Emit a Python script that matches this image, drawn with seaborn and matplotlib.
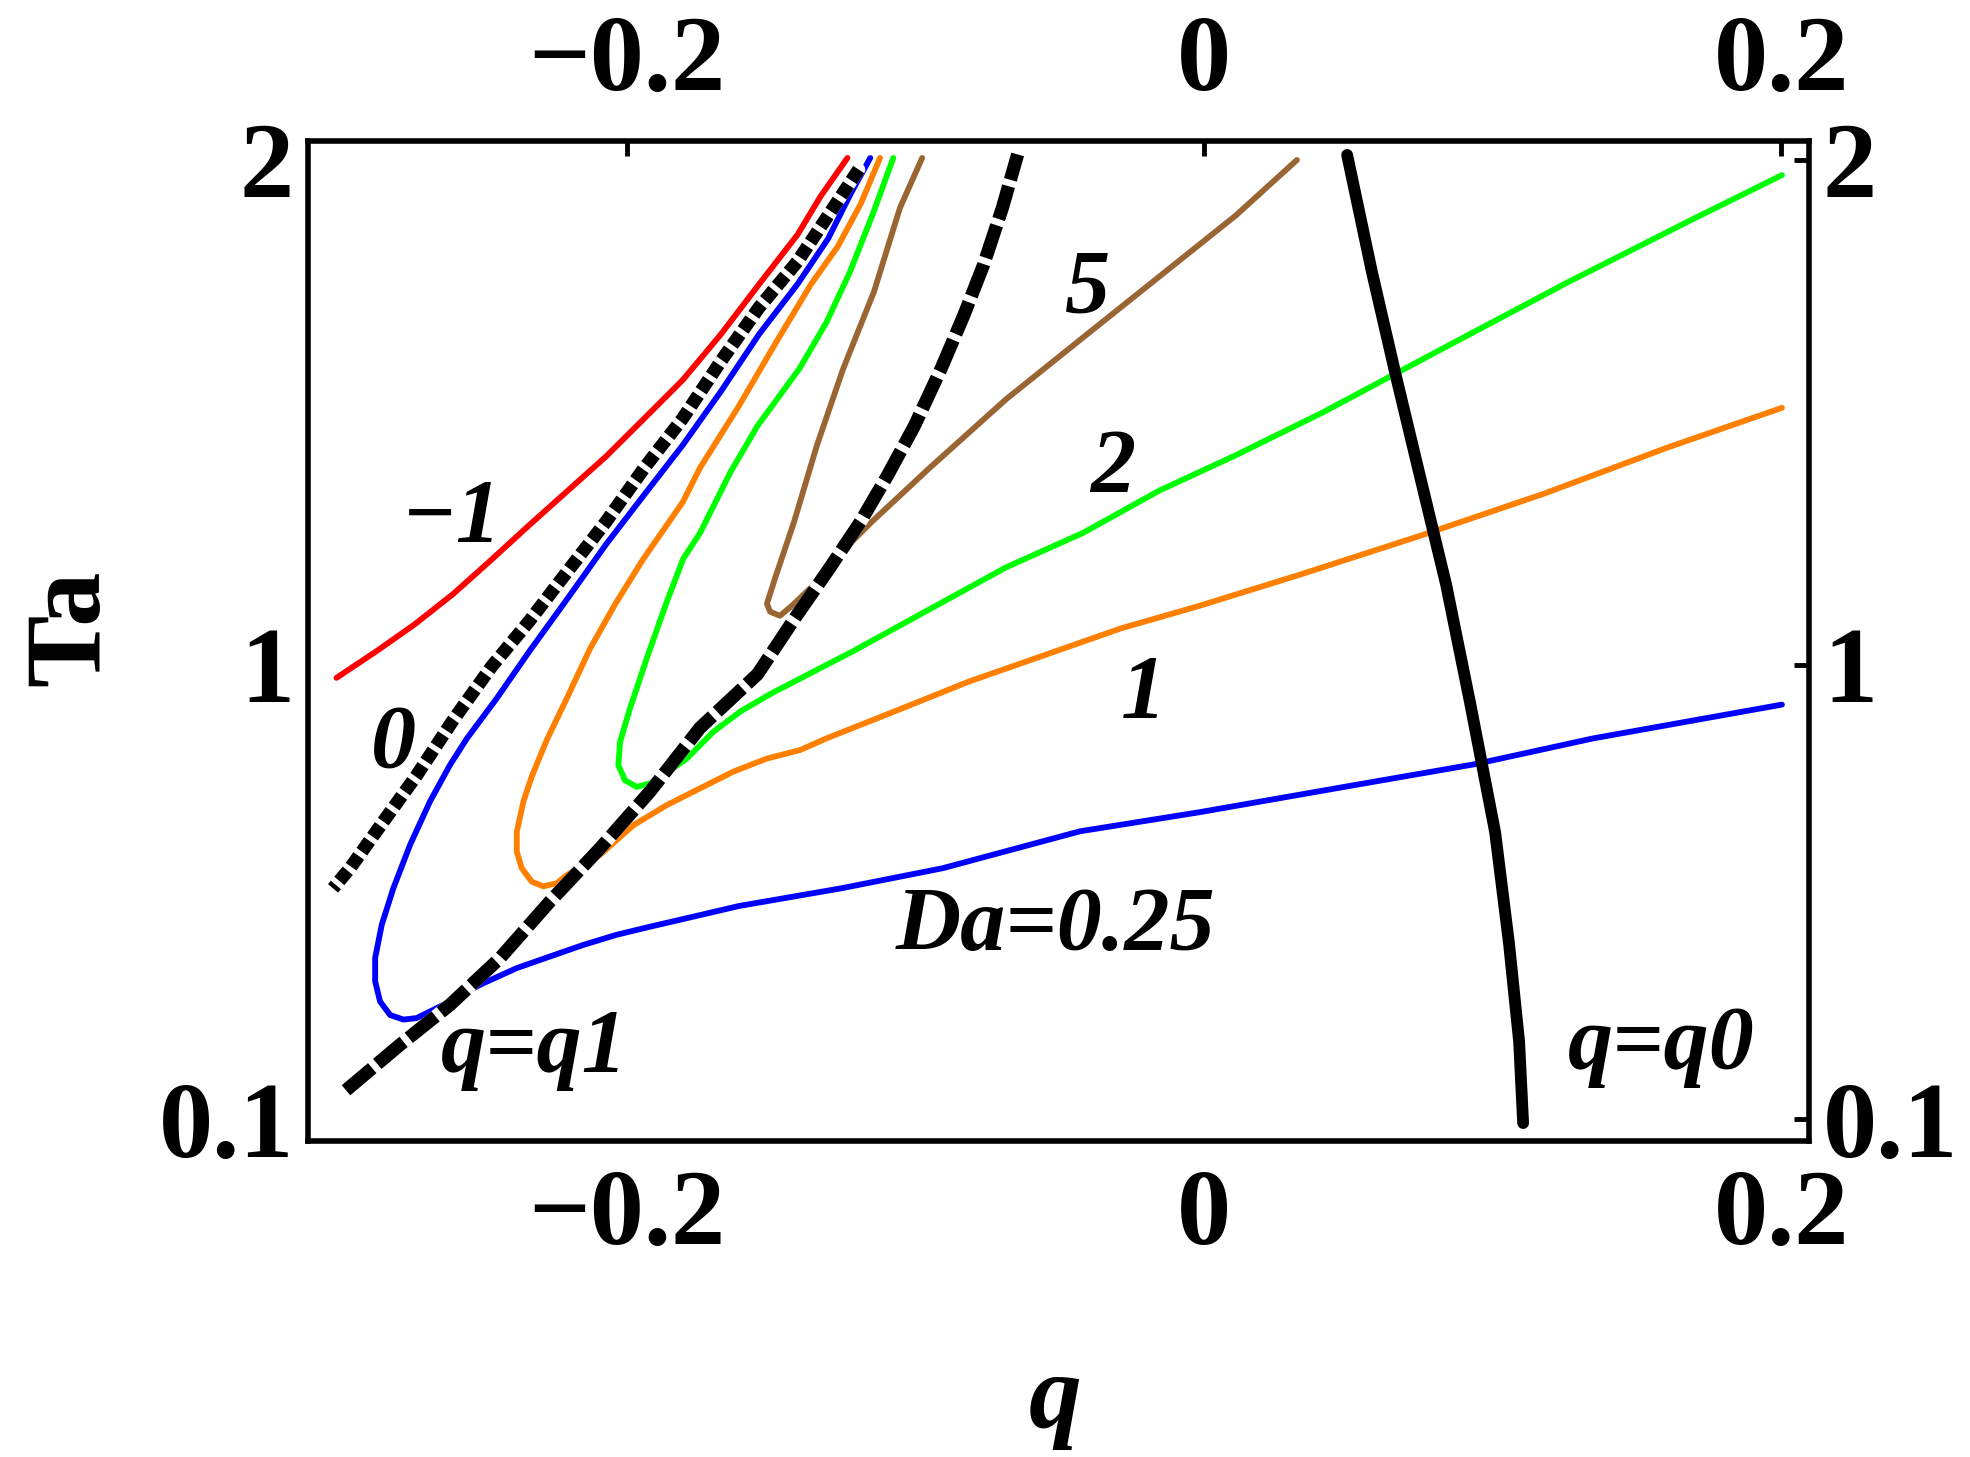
import numpy as np
import matplotlib
matplotlib.use("Agg")
import matplotlib.pyplot as plt
import seaborn as sns

# curves: (q, Ta)
red_q = [-0.3007, -0.2868, -0.2736, -0.2603, -0.2470, -0.2338, -0.2205, -0.2072, -0.1940, -0.1807,
         -0.1674, -0.1542, -0.1409, -0.1329, -0.1236]
red_ta = [0.974, 1.027, 1.080, 1.140, 1.208, 1.277, 1.345, 1.413, 1.488, 1.564,
          1.655, 1.754, 1.852, 1.928, 2.004]

dot_q = [-0.1197, -0.1276, -0.1409, -0.1542, -0.1674, -0.1807, -0.1940, -0.2072, -0.2205, -0.2338,
         -0.2470, -0.2603, -0.2729, -0.2845, -0.2960, -0.3019]
dot_ta = [1.981, 1.913, 1.799, 1.708, 1.602, 1.488, 1.390, 1.284, 1.186, 1.087,
          0.996, 0.890, 0.781, 0.689, 0.597, 0.557]

blue_q = [-0.1157, -0.1223, -0.1303, -0.1409, -0.1542, -0.1674, -0.1807, -0.1940, -0.2072, -0.2205,
          -0.2338, -0.2452, -0.2556, -0.2614, -0.2683, -0.2752, -0.2810, -0.2850, -0.2873, -0.2873,
          -0.2856, -0.2821, -0.2775, -0.2729, -0.2683, -0.2637, -0.2579, -0.2498, -0.2382, -0.2267,
          -0.2151, -0.2036, -0.1920, -0.1747, -0.1612, -0.1258, -0.0905, -0.0430, -0.0014, 0.0496,
          0.0939, 0.1348, 0.2003]
blue_ta = [2.004, 1.935, 1.844, 1.754, 1.655, 1.542, 1.435, 1.337, 1.239, 1.132,
           1.027, 0.933, 0.853, 0.801, 0.729, 0.643, 0.557, 0.485, 0.419, 0.373,
           0.333, 0.306, 0.297, 0.300, 0.313, 0.326, 0.346, 0.369, 0.399, 0.422,
           0.445, 0.465, 0.481, 0.504, 0.522, 0.557, 0.597, 0.670, 0.708, 0.759,
           0.803, 0.854, 0.921]

orange_q = [-0.1123, -0.1190, -0.1269, -0.1362, -0.1482, -0.1614, -0.1747, -0.1807, -0.1943, -0.2040,
            -0.2128, -0.2209, -0.2278, -0.2330, -0.2359, -0.2382, -0.2382, -0.2365, -0.2330, -0.2290,
            -0.2244, -0.2209, -0.2094, -0.1978, -0.1862, -0.1747, -0.1632, -0.1516, -0.1400, -0.1309,
            -0.1084, -0.0818, -0.0553, -0.0288, -0.0020, 0.0330, 0.0752, 0.1179, 0.1605, 0.2003]
orange_ta = [2.004, 1.913, 1.829, 1.754, 1.640, 1.511, 1.390, 1.322, 1.210, 1.121,
             1.032, 0.933, 0.851, 0.779, 0.729, 0.669, 0.630, 0.597, 0.570, 0.561,
             0.567, 0.583, 0.623, 0.682, 0.722, 0.755, 0.788, 0.814, 0.831, 0.854,
             0.905, 0.966, 1.019, 1.072, 1.116, 1.178, 1.256, 1.339, 1.430, 1.509]

green_q = [-0.1077, -0.1150, -0.1229, -0.1309, -0.1402, -0.1548, -0.1641, -0.1747, -0.1805, -0.1862,
           -0.1932, -0.1990, -0.2024, -0.2030, -0.2007, -0.1966, -0.1920, -0.1874, -0.1793, -0.1701,
           -0.1608, -0.1500, -0.1216, -0.0951, -0.0686, -0.0420, -0.0155, 0.0110, 0.0412, 0.0839,
           0.1262, 0.1688, 0.2003]
green_ta = [2.004, 1.890, 1.776, 1.678, 1.587, 1.473, 1.382, 1.261, 1.210, 1.125,
            1.012, 0.913, 0.847, 0.801, 0.771, 0.758, 0.765, 0.781, 0.814, 0.867,
            0.907, 0.943, 1.027, 1.110, 1.193, 1.261, 1.345, 1.415, 1.500, 1.630,
            1.758, 1.881, 1.970]

brown_q = [-0.0977, -0.1054, -0.1144, -0.1251, -0.1341, -0.1421, -0.1487, -0.1515, -0.1504, -0.1470,
           -0.1428, -0.1355, -0.1243, -0.1150, -0.0951, -0.0686, -0.0420, -0.0155, 0.0110, 0.0322]
brown_ta = [2.004, 1.905, 1.739, 1.586, 1.436, 1.283, 1.171, 1.121, 1.105, 1.097,
            1.117, 1.157, 1.231, 1.284, 1.390, 1.526, 1.648, 1.769, 1.890, 2.000]

q1_q = [-0.2974, -0.2787, -0.2614, -0.2440, -0.2267, -0.2094, -0.1920, -0.1747, -0.1548, -0.1415,
        -0.1296, -0.1190, -0.1097, -0.1004, -0.0911, -0.0832, -0.0765, -0.0699, -0.0646]
q1_ta = [0.157, 0.247, 0.326, 0.419, 0.531, 0.636, 0.749, 0.875, 0.981, 1.095,
         1.193, 1.284, 1.375, 1.473, 1.587, 1.693, 1.791, 1.905, 2.011]

q0_q = [0.0496, 0.0582, 0.0666, 0.0752, 0.0839, 0.0922, 0.1009, 0.1057, 0.1092, 0.1106]
q0_ta = [2.010, 1.778, 1.570, 1.365, 1.159, 0.925, 0.668, 0.448, 0.254, 0.092]

labels = ["\u22121", "0", "5", "2", "1", "Da=0.25", "q=q1", "q=q0"]
label_q = [-0.2606, -0.2810, -0.0405, -0.0318, -0.0209, -0.0514, -0.2322, 0.1586]
label_ta = [1.287, 0.839, 1.742, 1.386, 0.938, 0.478, 0.237, 0.242]

xticks = [-0.2, 0, 0.2]
xtick_labels = ["\u22120.2", "0", "0.2"]
yticks = [0.1, 1, 2]
ytick_labels = ["0.1", "1", "2"]

sns.set_style("white")
plt.rcParams['font.family'] = ['Liberation Serif', 'DejaVu Serif']
plt.rcParams['font.weight'] = 'bold'
plt.rcParams['text.color'] = 'black'

fig = plt.figure(figsize=(19.7, 14.57), dpi=100)
ax = fig.add_axes([0.1563, 0.2169, 0.9183 - 0.1563, 0.9032 - 0.2169])

lw = 4.2
curves = [(red_q, red_ta, "#ff0000"), (blue_q, blue_ta, "#0000ff"),
          (orange_q, orange_ta, "#ff8000"), (green_q, green_ta, "#00ff00"),
          (brown_q, brown_ta, "#996633")]
for xs, ys, c in curves:
    sns.lineplot(x=xs, y=ys, sort=False, estimator=None, color=c, lw=lw, ax=ax)

# dotted (Da=0) and dashed (q=q1) lines, gaps show white
sns.lineplot(x=dot_q, y=dot_ta, sort=False, estimator=None, color="white", lw=9.5, ax=ax)
ax.plot(dot_q, dot_ta, color="black", lw=9.5, dashes=(1.0, 0.4), dash_capstyle="butt")
sns.lineplot(x=q1_q, y=q1_ta, sort=False, estimator=None, color="white", lw=9.5, ax=ax)
ax.plot(q1_q, q1_ta, color="black", lw=9.5, dashes=(2.6, 0.5), dash_capstyle="butt")

sns.lineplot(x=q0_q, y=q0_ta, sort=False, estimator=None, color="black", lw=8.5, ax=ax)

for t, xq, yt in zip(labels, label_q, label_ta):
    ax.text(xq, yt, t, fontsize=65, fontstyle="italic", fontweight="bold",
            color="black", ha="center", va="center")

ax.set_xlim(-0.3106, 0.2097)
ax.set_ylim(0.0565, 2.0375)
ax.set_xticks(xticks)
ax.set_xticklabels(xtick_labels)
ax.set_yticks(yticks)
ax.set_yticklabels(ytick_labels)
ax.tick_params(axis="both", which="both", direction="in", length=11, width=3.5,
               top=True, right=True, labeltop=True, labelright=True,
               labelsize=78, colors="black")
ax.tick_params(axis="x", pad=20)
ax.tick_params(axis="y", pad=10)
for lab in ax.get_xticklabels() + ax.get_yticklabels():
    lab.set_fontweight("bold")
for s in ax.spines.values():
    s.set_linewidth(4)
    s.set_color("black")

fig.text(1055 / 1970, 1 - 1401 / 1457, "q", fontsize=76, fontstyle="italic",
         fontweight="bold", color="black", ha="center", va="center")
fig.text(72 / 1970, 1 - 628 / 1457, "Ta", fontsize=78, fontweight="bold",
         color="black", rotation=90, ha="center", va="center")

fig.savefig("out.png", dpi=100)
